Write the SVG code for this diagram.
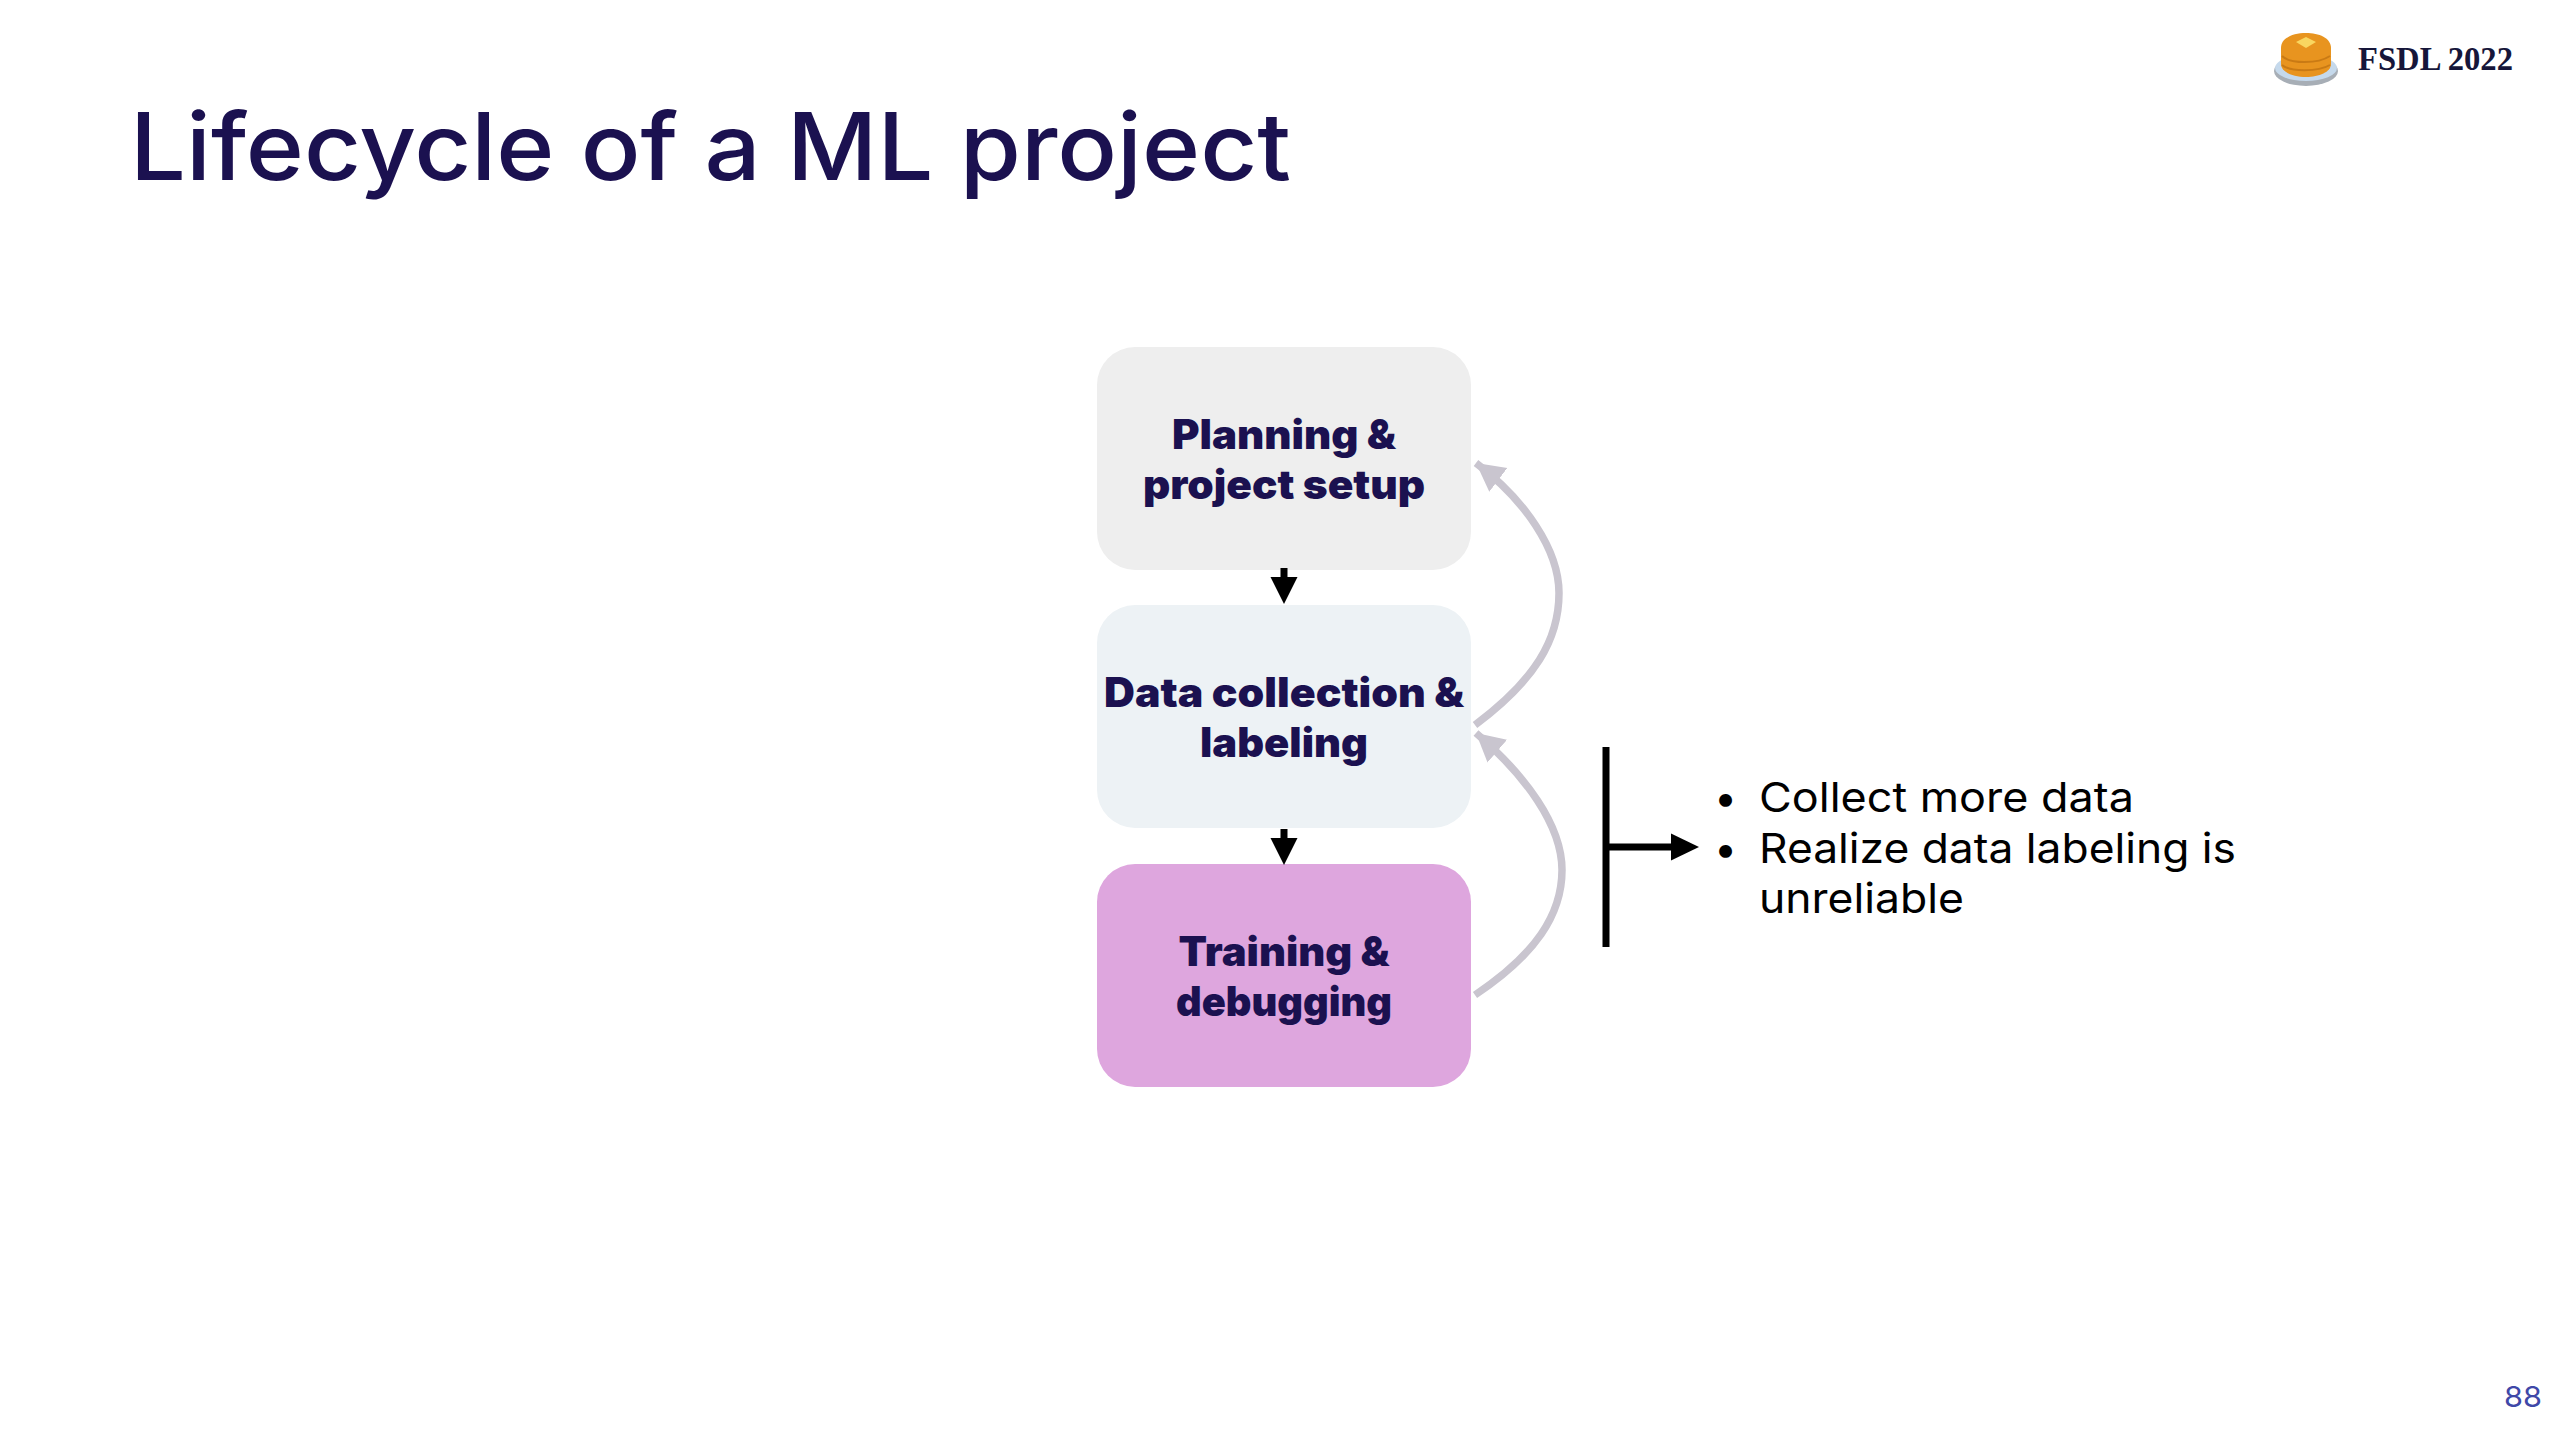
<svg xmlns="http://www.w3.org/2000/svg" width="2560" height="1440" viewBox="0 0 2560 1440">
<style>
text{font-family:Inter,"Noto Sans","Liberation Sans",sans-serif}
.title{font-size:93px;font-weight:500;fill:#1b1150}
.node{fill:#1b1150;font-size:41px;font-weight:900;text-anchor:middle}
.body{fill:#000;font-size:41px;font-weight:400}
.fb{fill:none;stroke:#c9c5cf;stroke-width:7.5}
.flow{stroke:#000;stroke-width:7;fill:none}
</style>
<defs>
<marker id="ah" markerUnits="userSpaceOnUse" markerWidth="32" markerHeight="34" refX="28" refY="17" orient="auto"><path d="M0 2 L28 17 L0 32 Z" fill="#c9c5cf"/></marker>
</defs>
<rect width="2560" height="1440" fill="#fff"/>
<text class="title" x="130" y="180" textLength="1161" lengthAdjust="spacingAndGlyphs">Lifecycle of a ML project</text>
<g id="logo">
<ellipse cx="2306" cy="71" rx="32" ry="15" fill="#a7aeb6"/>
<ellipse cx="2306" cy="68" rx="31" ry="13" fill="#c5d9ec"/>
<path d="M2281 48 C2281 38 2293 33 2306 33 C2319 33 2331 38 2331 48 L2331 64 C2331 72 2319 77 2306 77 C2293 77 2281 72 2281 64 Z" fill="#e8941f"/>
<path d="M2282 56 C2290 64 2318 64 2330 56 M2282 65 C2290 72 2318 72 2330 65" fill="none" stroke="#c97a14" stroke-width="2"/>
<path d="M2296 42 L2306 37 L2316 42 L2306 48 Z" fill="#f9d660"/>
</g>
<text x="2358" y="70" style="font-family:'Liberation Serif',serif;font-size:33px;font-weight:700;fill:#16163a" textLength="155" lengthAdjust="spacingAndGlyphs">FSDL 2022</text>
<g id="planning">
<rect x="1097" y="347" width="374" height="223" rx="38" fill="#eeeeee"/>
<text class="node" x="1284" y="449" textLength="224" lengthAdjust="spacingAndGlyphs">Planning &amp;</text>
<text class="node" x="1284" y="499" textLength="282" lengthAdjust="spacingAndGlyphs">project setup</text>
</g>
<g id="data">
<rect x="1097" y="605" width="374" height="223" rx="38" fill="#edf2f5"/>
<text class="node" x="1284" y="707" textLength="360" lengthAdjust="spacingAndGlyphs">Data collection &amp;</text>
<text class="node" x="1284" y="757" textLength="168" lengthAdjust="spacingAndGlyphs">labeling</text>
</g>
<g id="training">
<rect x="1097" y="864" width="374" height="223" rx="38" fill="#dea6de"/>
<text class="node" x="1284" y="966" textLength="211" lengthAdjust="spacingAndGlyphs">Training &amp;</text>
<text class="node" x="1284" y="1016" textLength="216" lengthAdjust="spacingAndGlyphs">debugging</text>
</g>
<g id="connectors">
<path class="flow" d="M1284 568V580"/>
<path d="M1270.500 577H1297.500L1284 604Z" fill="#000"/>
<path class="flow" d="M1284 829V841"/>
<path d="M1270.500 838H1297.500L1284 865Z" fill="#000"/>
<path class="fb" marker-end="url(#ah)" d="M1475 725 C1535 680 1559 640 1559 593 C1559 550 1525 500 1476 463"/>
<path class="fb" marker-end="url(#ah)" d="M1475 995 C1535 955 1562 915 1562 870 C1562 825 1525 775 1476 733"/>
<path class="flow" d="M1606 747V947"/>
<path class="flow" d="M1606 847H1674"/>
<path d="M1671 833.500L1699 847L1671 860.500Z" fill="#000"/>
</g>
<g id="notes">
<text class="body" x="1714" y="812" font-size="44">•</text>
<text class="body" x="1714" y="863" font-size="44">•</text>
<text class="body" x="1759" y="812" textLength="375" lengthAdjust="spacingAndGlyphs">Collect more data</text>
<text class="body" x="1759" y="863" textLength="477" lengthAdjust="spacingAndGlyphs">Realize data labeling is</text>
<text class="body" x="1759" y="913" textLength="205" lengthAdjust="spacingAndGlyphs">unreliable</text>
</g>
<text x="2504" y="1407" style="font-size:29px;fill:#3f48a8" textLength="38" lengthAdjust="spacingAndGlyphs">88</text>
</svg>
